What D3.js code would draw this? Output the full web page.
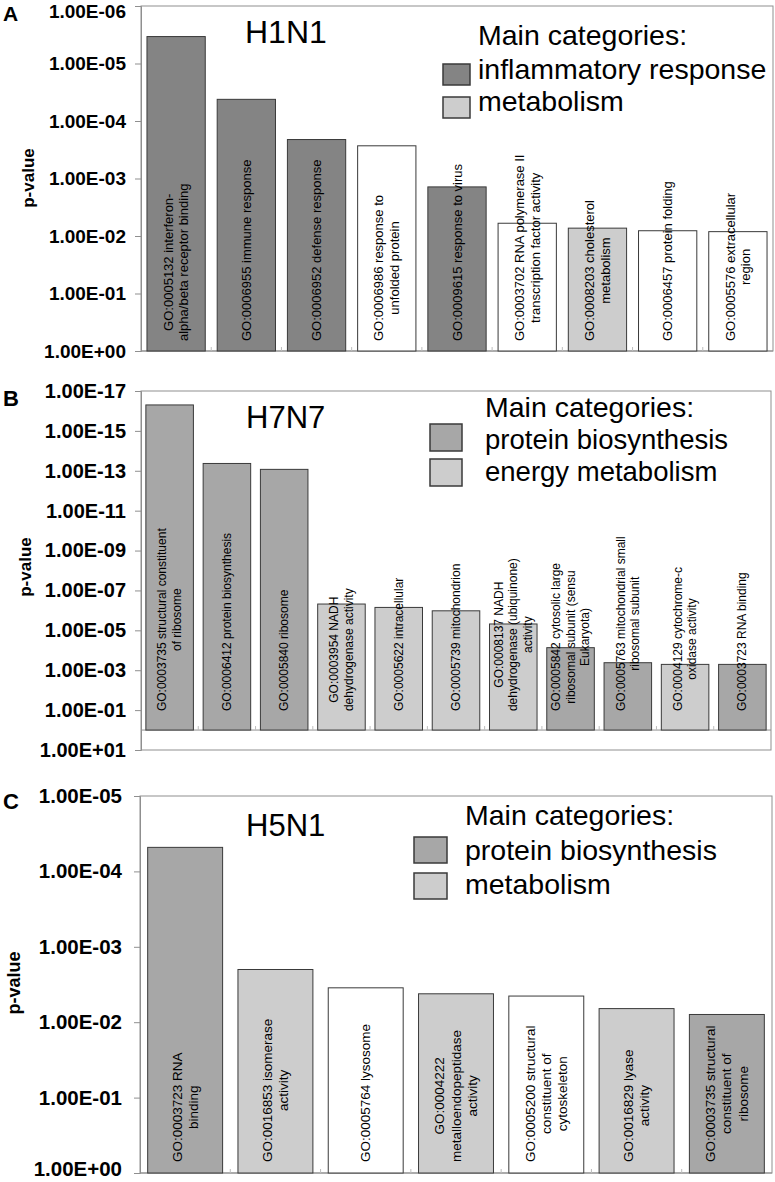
<!DOCTYPE html>
<html><head><meta charset="utf-8">
<script src="https://cdn.jsdelivr.net/npm/d3@7"></script>
<style>body{margin:0;background:#fff}svg{display:block;font-family:"Liberation Sans",Arial,sans-serif}</style>
</head><body><svg id="chart" width="775" height="1182"></svg>
<script>
// ---------- data ----------
const h1n1Categories = [
  "GO:0005132 interferon-\nalpha/beta receptor binding",
  "GO:0006955 immune response",
  "GO:0006952 defense response",
  "GO:0006986 response to\nunfolded protein",
  "GO:0009615 response to virus",
  "GO:0003702 RNA polymerase II\ntranscription factor activity",
  "GO:0008203 cholesterol\nmetabolism",
  "GO:0006457 protein folding",
  "GO:0005576 extracellular\nregion"
];
const h1n1Values = [3.4e-6, 4.2e-5, 2.1e-4, 2.7e-4, 1.4e-3, 6.0e-3, 7.3e-3, 8.1e-3, 8.4e-3];
const h1n1Groups = ["inflammatory","inflammatory","inflammatory","none","inflammatory","none","metabolism","none","none"];
const h1n1Ticks = [1e-6, 1e-5, 1e-4, 1e-3, 1e-2, 1e-1, 1];
const h1n1Legend = ["inflammatory response", "metabolism"];
const h1n1LegendGroups = ["inflammatory", "metabolism"];

const h7n7Categories = [
  "GO:0003735 structural constituent\nof ribosome",
  "GO:0006412 protein biosynthesis",
  "GO:0005840 ribosome",
  "GO:0003954 NADH\ndehydrogenase activity",
  "GO:0005622 intracellular",
  "GO:0005739 mitochondrion",
  "GO:0008137 NADH\ndehydrogenase (ubiquinone)\nactivity",
  "GO:0005842 cytosolic large\nribosomal subunit (sensu\nEukaryota)",
  "GO:0005763 mitochondrial small\nribosomal subunit",
  "GO:0004129 cytochrome-c\noxidase activity",
  "GO:0003723 RNA binding"
];
const h7n7Values = [5.0e-17, 4.3e-14, 8.5e-14, 4.8e-7, 7.1e-7, 1.05e-6, 4.8e-6, 7.4e-5, 4.2e-4, 5.1e-4, 5.1e-4];
const h7n7Groups = ["protein","protein","protein","metabolism","metabolism","metabolism","metabolism","protein","protein","metabolism","protein"];
const h7n7Ticks = [1e-17, 1e-15, 1e-13, 1e-11, 1e-9, 1e-7, 1e-5, 1e-3, 1e-1, 10];
const h7n7Legend = ["protein biosynthesis", "energy metabolism"];
const h7n7LegendGroups = ["protein", "metabolism"];

const h5n1Categories = [
  "GO:0003723 RNA\nbinding",
  "GO:0016853 isomerase\nactivity",
  "GO:0005764 lysosome",
  "GO:0004222\nmetalloendopeptidase\nactivity",
  "GO:0005200 structural\nconstituent of\ncytoskeleton",
  "GO:0016829 lyase\nactivity",
  "GO:0003735 structural\nconstituent of\nribosome"
];
const h5n1Values = [4.8e-5, 2.0e-3, 3.5e-3, 4.2e-3, 4.5e-3, 6.6e-3, 7.9e-3];
const h5n1Groups = ["protein","metabolism","none","metabolism","none","metabolism","protein"];
const h5n1Ticks = [1e-5, 1e-4, 1e-3, 1e-2, 1e-1, 1];
const h5n1Legend = ["protein biosynthesis", "metabolism"];
const h5n1LegendGroups = ["protein", "metabolism"];

const legendTitle = "Main categories:";
const yTitle = "p-value";

// ---------- styling / layout ----------
const groupColors = {inflammatory: "#848484", protein: "#a7a7a7", metabolism: "#cdcdcd", none: "#ffffff"};

const panels = [
  {letter: "A", title: "H1N1", cats: h1n1Categories, vals: h1n1Values, groups: h1n1Groups, ticks: h1n1Ticks,
   legend: h1n1Legend, legendGroups: h1n1LegendGroups,
   left: 141, right: 773, top: 6, bottom: 351, domain: [1, 1e-6],
   labelPad: 10, labelFont: 13, tickFont: 19, tickPad: 9, letterPos: [3, 21], letterFont: 21,
   titlePos: [245, 43], titleFont: 32, yLabelPos: [28, 178], yLabelFont: 17,
   legTitlePos: [478, 45], swX: 443, swW: 27, swH: 21, swY: [64, 97], legTextX: 478, legTextY: [79, 111],
   legTitleFont: 28.5, legFont: 28.5},
  {letter: "B", title: "H7N7", cats: h7n7Categories, vals: h7n7Values, groups: h7n7Groups, ticks: h7n7Ticks,
   legend: h7n7Legend, legendGroups: h7n7LegendGroups,
   left: 141, right: 771, top: 391, bottom: 750, domain: [10, 1e-17],
   labelPad: 19, labelFont: 12, tickFont: 20, tickPad: 9, letterPos: [3, 406], letterFont: 22,
   titlePos: [246, 428], titleFont: 31, yLabelPos: [25, 567], yLabelFont: 17,
   legTitlePos: [485, 417], swX: 430, swW: 32, swH: 27, swY: [424, 459], legTextX: 485, legTextY: [449, 481],
   legTitleFont: 28.5, legFont: 27.5},
  {letter: "C", title: "H5N1", cats: h5n1Categories, vals: h5n1Values, groups: h5n1Groups, ticks: h5n1Ticks,
   legend: h5n1Legend, legendGroups: h5n1LegendGroups,
   left: 140, right: 772, top: 796, bottom: 1173, domain: [1, 1e-5],
   labelPad: 11, labelFont: 13.5, tickFont: 20.5, tickPad: 12, letterPos: [3, 809], letterFont: 22,
   titlePos: [246, 836], titleFont: 31, yLabelPos: [14, 983], yLabelFont: 18,
   legTitlePos: [465, 825], swX: 414, swW: 33, swH: 26, swY: [837, 873], legTextX: 465, legTextY: [860, 894],
   legTitleFont: 28.5, legFont: 28.5}
];

function fmtE(v) {
  const e = Math.round(Math.log10(v));
  return "1.00E" + (e < 0 ? "-" : "+") + String(Math.abs(e)).padStart(2, "0");
}

const svg = d3.select("#chart");

panels.forEach(p => {
  const g = svg.append("g");
  const y = d3.scaleLog().domain(p.domain).range([p.bottom, p.top]);
  const x = d3.scaleBand().domain(p.cats.map((c, i) => i)).range([p.left, p.right])
    .paddingInner(0.17).paddingOuter(0.085);
  const base = y(1);

  // frame
  g.append("rect").attr("x", p.left).attr("y", p.top)
    .attr("width", p.right - p.left).attr("height", p.bottom - p.top)
    .attr("fill", "none").attr("stroke", "#8f8f8f").attr("stroke-width", 1);

  // baseline (category axis)
  g.append("line").attr("x1", p.left).attr("x2", p.right).attr("y1", base).attr("y2", base)
    .attr("stroke", "#8f8f8f");
  const bounds = d3.range(1, p.cats.length).map(i => x(i) - x.step() * x.paddingInner() / 2);
  g.selectAll(".ctick").data(bounds).join("line")
    .attr("x1", d => d).attr("x2", d => d).attr("y1", base - 4).attr("y2", base)
    .attr("stroke", "#bdbdbd");

  // y axis
  const ax = g.append("g").attr("transform", `translate(${p.left},0)`)
    .call(d3.axisLeft(y).tickValues(p.ticks).tickFormat(fmtE).tickSize(6).tickPadding(p.tickPad));
  ax.select(".domain").attr("stroke", "#8f8f8f");
  ax.selectAll(".tick line").attr("stroke", "#8f8f8f");
  ax.selectAll(".tick text").attr("font-size", p.tickFont).attr("font-weight", "bold")
    .attr("fill", "#000").attr("font-family", '"Liberation Sans",Arial,sans-serif')
    .attr("dy", d => {
      const yy = y(d);
      if (yy - p.tickFont * 0.4 < 0) return "0.62em";   // keep the top label inside the page
      if (yy + p.tickFont * 0.4 > 1180) return "0.1em"; // keep the bottom label inside the page
      return "0.32em";
    });

  // bars
  g.selectAll(".bar").data(p.vals).join("rect")
    .attr("x", (d, i) => x(i)).attr("width", x.bandwidth())
    .attr("y", d => y(d)).attr("height", d => base - y(d))
    .attr("fill", (d, i) => groupColors[p.groups[i]])
    .attr("stroke", "#3a3a3a").attr("stroke-width", 1);

  // bar labels (rotated)
  p.cats.forEach((c, i) => {
    const lines = c.split("\n");
    const lg = g.append("g")
      .attr("transform", `translate(${x(i) + x.bandwidth() / 2},${base - p.labelPad}) rotate(-90)`);
    const lh = p.labelFont * 1.2;
    const texts = lines.map((l, j) => lg.append("text").text(l)
      .attr("font-size", p.labelFont).attr("fill", "#000")
      .attr("text-anchor", "middle").attr("dominant-baseline", "central")
      .attr("y", (j - (lines.length - 1) / 2) * lh));
    const maxLen = d3.max(texts, t => t.node().getComputedTextLength());
    texts.forEach(t => t.attr("x", maxLen / 2));
  });

  // panel letter
  g.append("text").attr("x", p.letterPos[0]).attr("y", p.letterPos[1]).text(p.letter)
    .attr("font-size", p.letterFont).attr("font-weight", "bold");
  // title
  g.append("text").attr("x", p.titlePos[0]).attr("y", p.titlePos[1]).text(p.title)
    .attr("font-size", p.titleFont);
  // y label
  g.append("text").attr("transform", `translate(${p.yLabelPos[0]},${p.yLabelPos[1]}) rotate(-90)`)
    .attr("text-anchor", "middle").attr("dominant-baseline", "central")
    .attr("font-size", p.yLabelFont).attr("font-weight", "bold").text(yTitle);

  // legend
  g.append("text").attr("x", p.legTitlePos[0]).attr("y", p.legTitlePos[1]).text(legendTitle)
    .attr("font-size", p.legTitleFont);
  p.legend.forEach((name, k) => {
    g.append("rect").attr("x", p.swX).attr("y", p.swY[k]).attr("width", p.swW).attr("height", p.swH)
      .attr("fill", groupColors[p.legendGroups[k]]).attr("stroke", "#3a3a3a").attr("stroke-width", 1.5);
    g.append("text").attr("x", p.legTextX).attr("y", p.legTextY[k]).text(name)
      .attr("font-size", p.legFont);
  });
});
</script>
</body></html>
